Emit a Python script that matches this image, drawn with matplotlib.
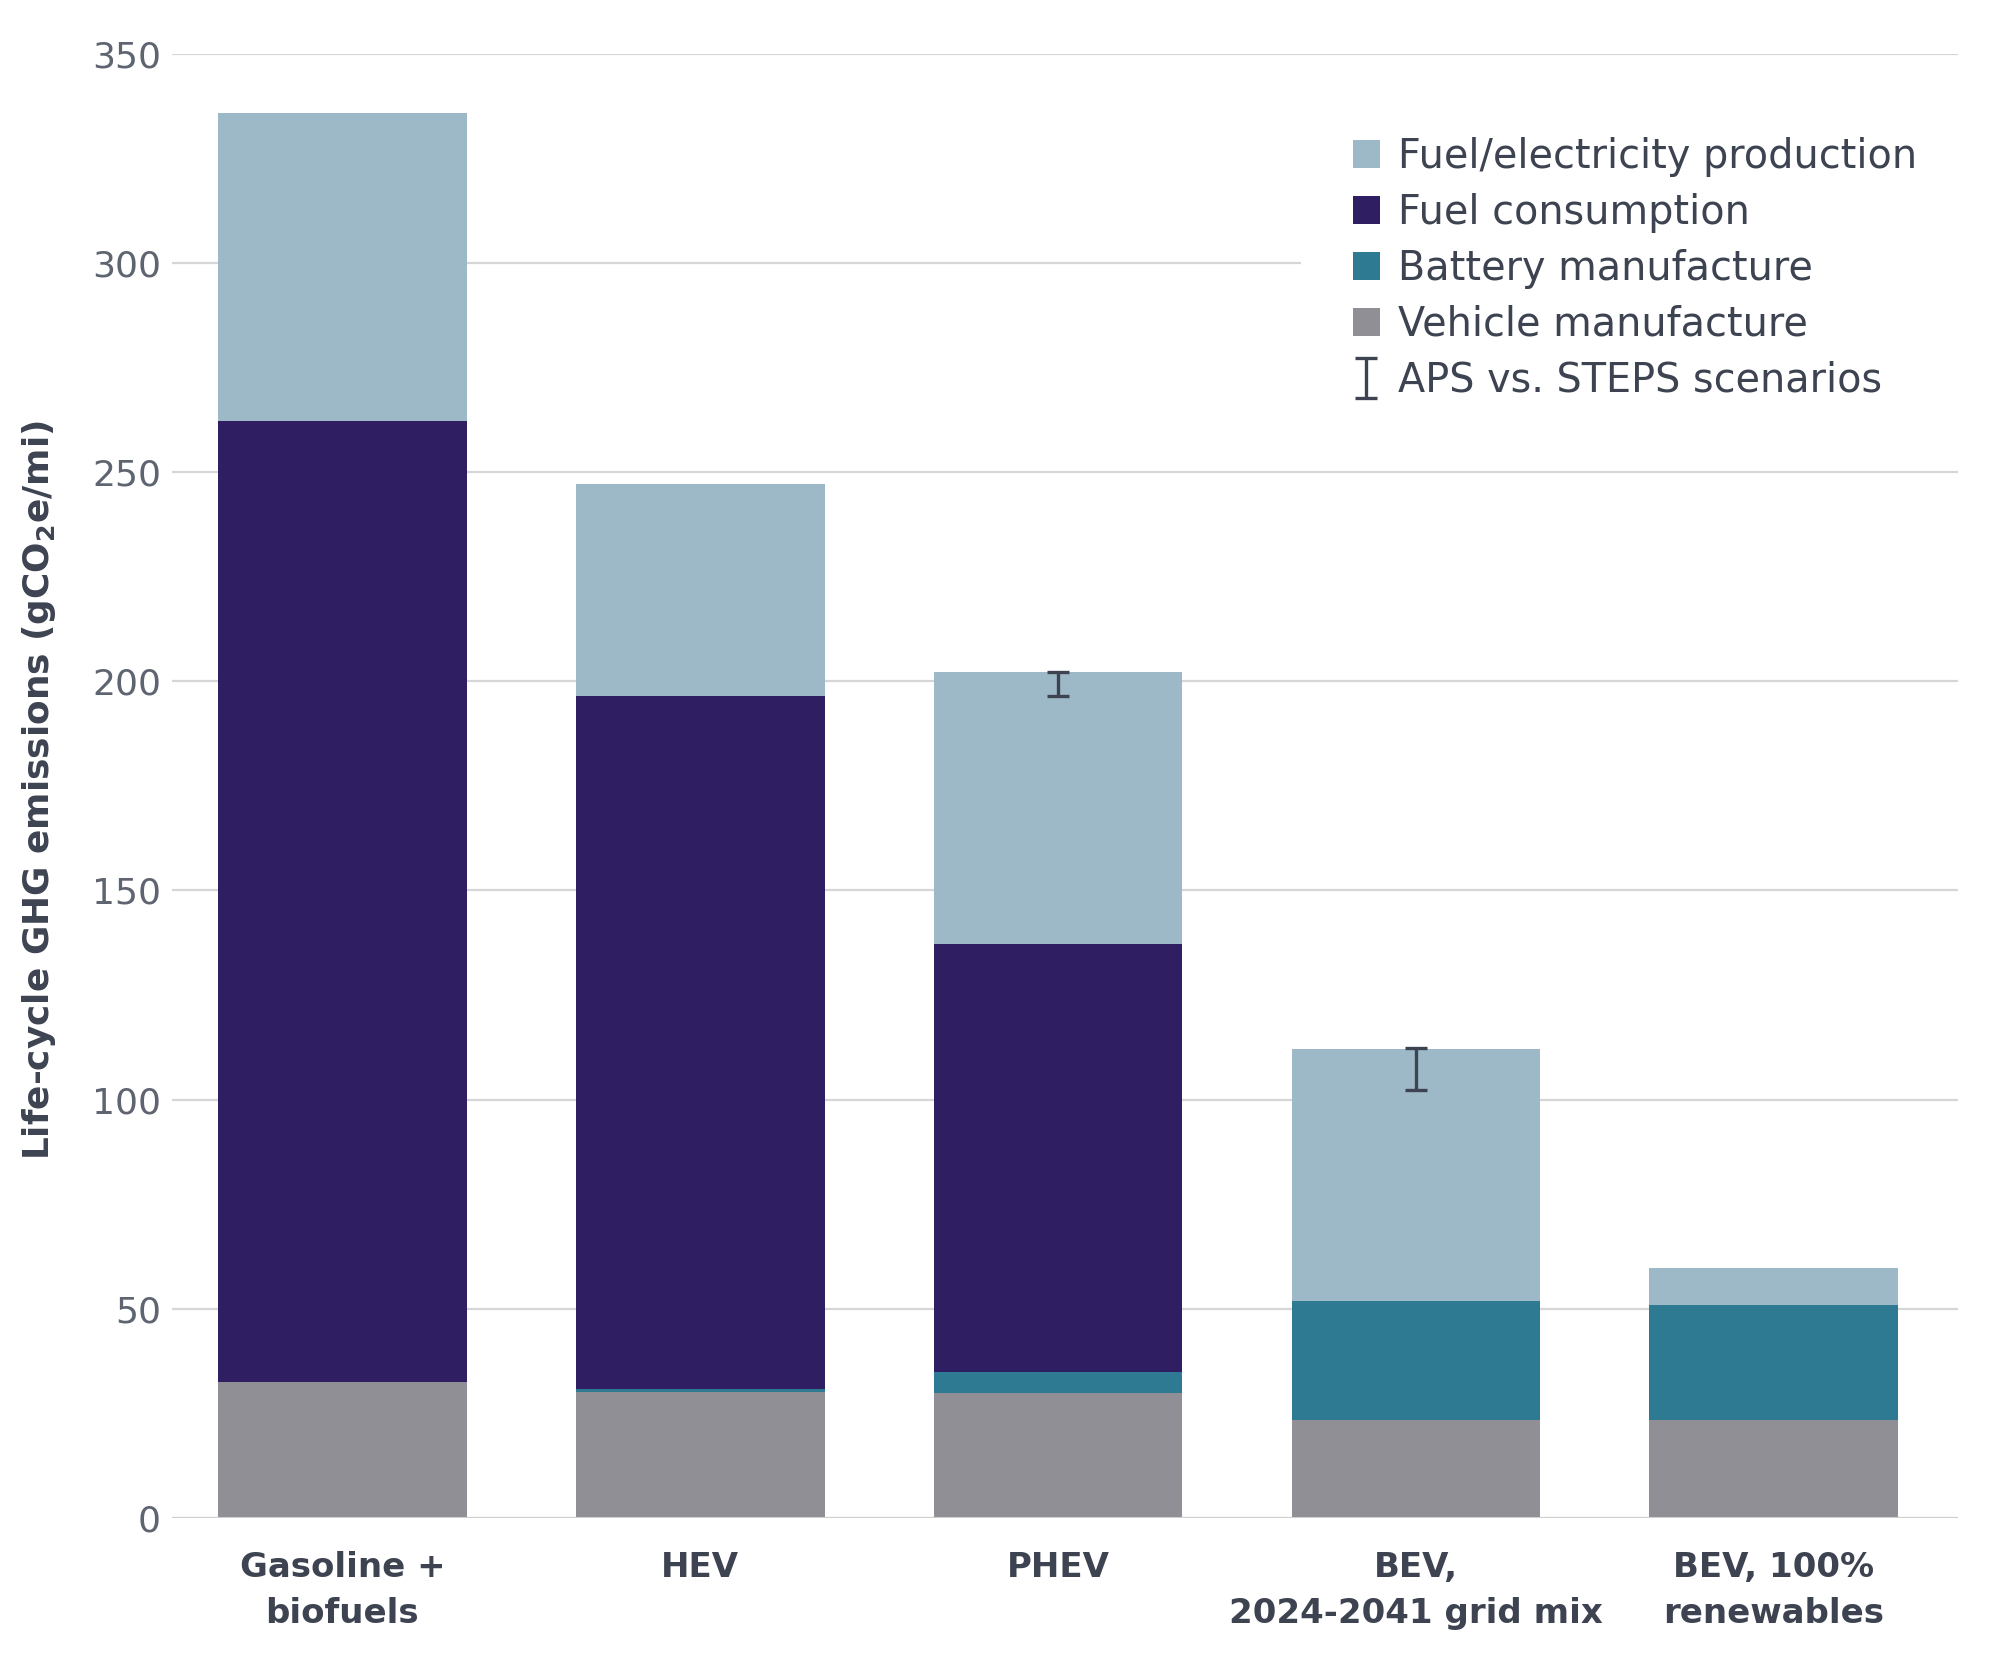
import matplotlib
matplotlib.use("Agg")
import matplotlib.pyplot as plt
from matplotlib.patches import Patch
import numpy as np

plt.rcParams['font.family'] = ['DejaVu Sans']
plt.rcParams['mathtext.fontset'] = 'custom'
plt.rcParams['mathtext.rm'] = 'DejaVu Sans:bold'
plt.rcParams['mathtext.default'] = 'rm'

categories = ["Gasoline +\nbiofuels", "HEV", "PHEV", "BEV,\n2024-2041 grid mix", "BEV, 100%\nrenewables"]
vehicle_manufacture = [32.6, 30.2, 29.9, 23.5, 23.5]
battery_manufacture = [0.0, 0.7, 4.9, 28.3, 27.4]
fuel_consumption = [229.6, 165.5, 102.4, 0.0, 0.0]
fuel_production = [73.5, 50.7, 64.9, 60.2, 8.9]
err_cats = [2, 3]
err_low = [196.5, 102.2]
err_high = [202.3, 112.4]

series = [
    ("Vehicle manufacture", vehicle_manufacture, "#908f96"),
    ("Battery manufacture", battery_manufacture, "#2e7a92"),
    ("Fuel consumption", fuel_consumption, "#301e62"),
    ("Fuel/electricity production", fuel_production, "#9db9c8"),
]

fig = plt.figure(figsize=(20, 16.54), dpi=100)
ax = fig.add_axes([0.086, 0.0822, 0.893, 0.8854])

x = np.arange(len(categories))
bottom = np.zeros(len(categories))
for name, vals, col in series:
    v = np.array(vals)
    ax.bar(x, v, bottom=bottom, width=0.695, color=col, zorder=2, linewidth=0)
    bottom += v

lo = np.array(err_low)
hi = np.array(err_high)
mid = (lo + hi) / 2
err = ax.errorbar(np.array(err_cats), mid, yerr=(hi - lo) / 2, fmt='none',
                  ecolor="#3d4350", elinewidth=2.4, capsize=8, capthick=2.4, zorder=4)

ax.set_ylim(0, 350)
ax.set_xlim(-0.476, 4.515)
ax.set_yticks(np.arange(0, 351, 50))
ax.yaxis.grid(True, color="#d6d6d6", linewidth=1.6, zorder=0)
ax.set_axisbelow(True)
for s in ax.spines.values():
    s.set_visible(False)
ax.axhline(0, color="#cfcfcf", linewidth=2.2, zorder=3)
ax.tick_params(axis='y', length=0, pad=8, labelsize=26, labelcolor="#5e6470")
ax.tick_params(axis='x', length=0, pad=24, labelsize=24.5, labelcolor="#3d4350")
ax.set_xticks(x)
ax.set_xticklabels(categories, fontweight='bold', linespacing=1.5)

ax.set_ylabel("Life-cycle GHG emissions (gCO$_2$e/mi)", fontsize=25.8, fontweight='bold', color="#3d4350")
ax.yaxis.set_label_coords(-0.064, 0.497)

handles = [Patch(facecolor="#9db9c8"), Patch(facecolor="#301e62"),
           Patch(facecolor="#2e7a92"), Patch(facecolor="#908f96"), err]
labels = ["Fuel/electricity production", "Fuel consumption", "Battery manufacture",
          "Vehicle manufacture", "APS vs. STEPS scenarios"]
leg = ax.legend(handles, labels, loc='upper left', bbox_to_anchor=(0.6505, 0.9483),
                bbox_transform=fig.transFigure, frameon=True, facecolor='white',
                edgecolor='none', framealpha=1, fontsize=28.6, handlelength=0.69,
                handleheight=0.69, handletextpad=0.44, labelspacing=0.40,
                borderpad=1.3, borderaxespad=0, labelcolor="#3d4350")
leg.set_zorder(5)

fig.savefig("out.png", dpi=100)
